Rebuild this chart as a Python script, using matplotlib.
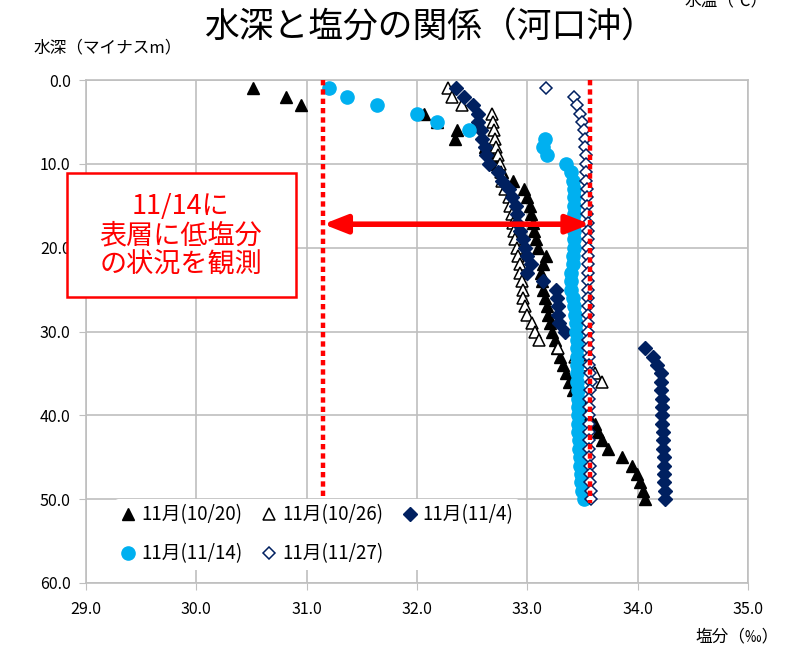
import numpy as np
import matplotlib
matplotlib.use("Agg")
import matplotlib.pyplot as plt
from matplotlib.patches import Rectangle

plt.rcParams['font.family'] = ['Noto Sans CJK JP', 'DejaVu Sans']

# depth (m) of each measurement
depth = list(range(1, 51))

sal_1020 = [30.51, 30.81, 30.95, 32.06, 32.18, 32.36, 32.34, 32.62, 32.67, 32.72,
            32.77, 32.87, 32.97, 33.00, 33.02, 33.03, 33.05, 33.06, 33.08, 33.10,
            33.17, 33.14, 33.12, 33.13, 33.14, 33.16, 33.18, 33.19, 33.21, 33.22,
            33.25, 33.27, 33.30, 33.32, 33.35, 33.38, 33.41, 33.46, 33.52, 33.55,
            33.61, 33.64, 33.68, 33.73, 33.86, 33.95, 33.99, 34.02, 34.05, 34.07]

sal_1026 = [32.28, 32.32, 32.41, 32.68, 32.69, 32.70, 32.71, 32.72, 32.73, 32.75,
            32.76, 32.77, 32.80, 32.83, 32.84, 32.86, 32.87, 32.88, 32.89, 32.91,
            32.92, 32.93, 32.93, 32.95, 32.96, 32.96, 32.98, 33.00, 33.04, 33.07,
            33.11, 33.28, 33.43, 33.52, 33.61, 33.68]

sal_1104 = [32.35, 32.43, 32.51, 32.55, 32.55, 32.58, 32.59, 32.62, 32.63, 32.65,
            32.73, 32.77, 32.83, 32.86, 32.90, 32.91, 32.91, 32.93, 32.96, 32.98,
            33.00, 33.03, 33.00, 33.14, 33.26, 33.27, 33.28, 33.28, 33.29, 33.34,
            np.nan, 34.07, 34.14, 34.18, 34.21, 34.21, 34.21, 34.22, 34.22, 34.22,
            34.22, 34.23, 34.23, 34.23, 34.24, 34.24, 34.24, 34.24, 34.25, 34.25]

sal_1114 = [31.20, 31.37, 31.64, 32.00, 32.18, 32.47, 33.16, 33.14, 33.18, 33.35,
            33.40, 33.41, 33.42, 33.42, 33.42, 33.42, 33.42, 33.42, 33.42, 33.42,
            33.41, 33.41, 33.40, 33.40, 33.40, 33.41, 33.42, 33.43, 33.44, 33.44,
            33.45, 33.45, 33.45, 33.45, 33.45, 33.45, 33.46, 33.46, 33.46, 33.46,
            33.46, 33.46, 33.47, 33.47, 33.48, 33.48, 33.49, 33.49, 33.50, 33.51]

sal_1127 = [33.17, 33.42, 33.45, 33.48, 33.50, 33.51, 33.52, 33.52, 33.53, 33.53,
            33.53, 33.53, 33.54, 33.54, 33.54, 33.54, 33.55, 33.55, 33.55, 33.55,
            33.55, 33.55, 33.55, 33.55, 33.55, 33.55, 33.55, 33.55, 33.55, 33.55,
            33.55, 33.55, 33.56, 33.56, 33.57, 33.58, 33.57, 33.56, 33.56, 33.56,
            33.56, 33.56, 33.56, 33.56, 33.56, 33.57, 33.57, 33.57, 33.58, 33.58]

labels = ['11月(10/20)', '11月(10/26)', '11月(11/4)', '11月(11/14)', '11月(11/27)']

# salinity range observed on 11/14 (dotted lines) and arrow depth
low_sal, high_sal = 31.15, 33.57
arrow_depth = 17.2

navy = '#002060'
cyan = '#00b0f0'
red = '#ff0000'
grid_c = '#bfbfbf'

fig = plt.figure(figsize=(7.87, 6.49), dpi=100)
ax = fig.add_axes([0.1093, 0.1017, 0.8411, 0.775])

h = []
h += ax.plot(sal_1020, depth, ls='none', marker='^', ms=8, color='black', label=labels[0])
h += ax.plot(sal_1026, depth[:len(sal_1026)], ls='none', marker='^', ms=8,
             mfc='white', mec='black', mew=1.1, label=labels[1])
h += ax.plot(sal_1104, depth, ls='none', marker='D', ms=7, color=navy, label=labels[2])
h += ax.plot(sal_1114, depth, ls='none', marker='o', ms=9.5, color=cyan, label=labels[3])
h += ax.plot(sal_1127, depth, ls='none', marker='D', ms=6.5, mfc='white', mec=navy,
             mew=1.1, label=labels[4])

for xv in (low_sal, high_sal):
    ax.plot([xv, xv], [0, 50.5], color=red, lw=3.2, ls=(0, (1.2, 0.9)), zorder=5)

ax.annotate('', xy=(low_sal, arrow_depth), xytext=(high_sal, arrow_depth),
            arrowprops=dict(arrowstyle='<|-|>,head_length=1.4,head_width=0.55',
                            color=red, lw=4, shrinkA=0, shrinkB=0), zorder=6)

ax.set_xlim(29, 35)
ax.set_ylim(60, 0)
ax.set_xticks(np.arange(29, 35.5, 1))
ax.set_yticks(np.arange(0, 61, 10))
ax.xaxis.set_major_formatter(matplotlib.ticker.FormatStrFormatter('%.1f'))
ax.yaxis.set_major_formatter(matplotlib.ticker.FormatStrFormatter('%.1f'))
ax.grid(True, color=grid_c, lw=1.2)
ax.set_axisbelow(True)
for s in ax.spines.values():
    s.set_color(grid_c)
    s.set_linewidth(1.2)
ax.tick_params(axis='both', length=5, color=grid_c, labelsize=11.5, pad=6)
ax.tick_params(axis='x', pad=8)

# legend filled row by row like the original
order = [0, 3, 1, 4, 2]
leg = ax.legend([h[i] for i in order], [labels[i] for i in order],
                loc='upper left', bbox_to_anchor=(0.03, 0.186), ncol=3,
                fontsize=13.5, frameon=True, facecolor='white', edgecolor='none',
                framealpha=1, handlelength=0.8, handletextpad=0.3,
                columnspacing=1.0, borderpad=0.3, labelspacing=0.95)
leg.set_zorder(7)

fig.text(0.546, 0.957, '水深と塩分の関係（河口沖）', ha='center', va='center', fontsize=25)
fig.text(0.042, 0.926, '水深（マイナスm）', ha='left', va='center', fontsize=12)
fig.text(0.99, 0.018, '塩分（‰）', ha='right', va='center', fontsize=12)
fig.text(0.87, 0.998, '水温（℃）', ha='left', va='center', fontsize=12)

# annotation box
fig.add_artist(Rectangle((67 / 787, 1 - 297 / 649), 229 / 787, 124 / 649,
                         transform=fig.transFigure, facecolor='white',
                         edgecolor=red, lw=1.8, zorder=8))
fig.text(181 / 787, 1 - 236 / 649, '11/14に\n表層に低塩分\nの状況を観測', ha='center',
         va='center', fontsize=19.5, color=red, linespacing=1.12, zorder=9)

fig.savefig('out.png', dpi=100)
